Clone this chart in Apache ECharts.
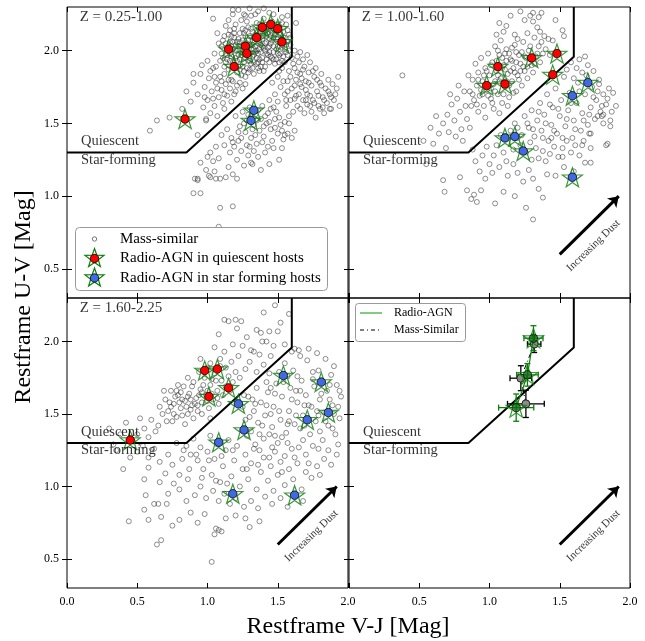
<!DOCTYPE html>
<html><head><meta charset="utf-8">
<script src="https://cdn.jsdelivr.net/npm/echarts@6/dist/echarts.min.js"></script>
<style>html,body{margin:0;padding:0;background:#fff}#c{width:645px;height:641px}</style>
</head><body><div id="c"></div>
<script>
// ---------- data ----------
const xTicks = [0, 0.5, 1, 1.5, 2];
const yTicks = [0.5, 1, 1.5, 2];
const zLabels = ['Z = 0.25-1.00', 'Z = 1.00-1.60', 'Z = 1.60-2.25'];
const uvjBoundary = [[0, 1.3], [0.85, 1.3], [1.6, 1.958], [1.6, 2.3]];
const dustArrow = [[1.5, 0.6], [1.92, 1.0]];

// mass-similar samples, flat (V-J, U-V) pairs
const massZ1 = [
1.08,2.05,1.10,1.98,1.12,2.10,1.13,1.92,1.14,2.02,1.15,1.87,1.16,2.14,1.17,1.96,1.18,2.06,1.19,1.90,1.20,2.00,1.20,2.18,1.21,1.85,1.22,2.08,1.23,1.94,1.24,2.03,1.24,2.21,1.25,1.89,1.26,1.99,1.26,2.12,1.27,1.82,1.28,2.05,1.29,1.93,1.29,2.16,1.30,1.87,1.31,2.01,1.31,2.24,1.32,1.96,1.33,2.09,1.33,1.84,1.34,2.03,1.35,1.91,1.35,2.19,1.36,1.98,1.37,2.07,1.37,1.86,1.38,2.13,1.39,1.95,1.40,2.02,1.40,2.22,1.41,1.89,1.42,2.10,1.43,1.97,1.43,2.16,1.44,1.92,1.45,2.05,1.46,2.20,1.47,1.99,1.48,2.11,1.49,1.94,1.50,2.03,1.51,2.17,1.52,1.98,1.53,2.08,1.54,2.13,1.55,2.01,1.56,2.18,1.57,2.06,1.58,2.11,
1.09,1.93,1.11,2.07,1.12,1.84,1.14,1.97,1.15,2.11,1.17,1.80,1.18,2.01,1.19,2.15,1.21,1.93,1.22,2.03,1.23,1.87,1.25,2.07,1.25,2.15,1.27,1.95,1.28,1.88,1.28,2.20,1.30,2.04,1.30,1.93,1.32,2.13,1.32,1.88,1.34,1.99,1.34,2.25,1.36,2.05,1.36,1.92,1.38,1.99,1.38,1.89,1.39,2.08,1.41,2.14,1.41,2.00,1.42,1.94,1.44,2.08,1.45,1.96,1.46,2.12,1.47,2.03,1.48,1.91,1.50,2.14,1.51,1.97,1.52,2.05,1.53,2.19,1.55,2.09,1.56,1.99,1.57,2.14,1.59,2.04,
1.05,1.98,1.06,1.89,1.07,2.12,1.10,2.03,1.13,2.17,1.16,1.93,1.19,2.09,1.22,1.97,1.24,1.83,1.26,2.04,1.27,2.10,1.29,1.99,1.31,1.91,1.33,2.01,1.35,2.14,1.37,1.94,1.39,2.03,1.40,1.86,1.42,2.06,1.44,1.99,1.46,2.07,1.49,2.08,1.52,2.11,1.54,1.96,1.58,2.00,1.23,2.12,1.20,1.95,1.17,2.03,1.35,1.95,1.30,2.10,
1.11,1.95,1.13,2.05,1.16,1.98,1.18,1.92,1.19,2.12,1.21,2.06,1.22,1.89,1.24,1.97,1.25,2.01,1.26,1.86,1.27,2.14,1.28,1.97,1.29,2.07,1.30,1.98,1.31,2.15,1.32,2.04,1.33,1.92,1.34,2.11,1.35,2.00,1.36,2.09,1.37,2.18,1.38,2.04,1.39,1.92,1.40,2.10,1.41,2.05,1.42,1.98,1.43,2.12,1.44,2.03,1.45,2.14,1.46,1.95,1.47,2.09,1.48,2.17,1.49,2.01,1.50,2.08,1.51,1.92,1.53,2.02,1.54,2.09,1.56,2.04,1.57,1.97,1.59,2.09,
1.12,1.89,1.14,1.94,1.16,2.06,1.17,2.10,1.20,2.04,1.23,2.06,1.26,1.92,1.29,1.85,1.32,2.07,1.36,1.88,1.39,2.13,1.43,2.02,1.47,1.94,1.50,1.98,1.53,1.93,1.21,2.00,1.27,2.00,1.33,1.97,1.37,2.01,1.45,2.10,
1.22,2.28,1.30,2.29,1.36,2.27,1.44,2.26,1.40,2.29,1.27,2.24,1.47,2.25,1.15,2.21,1.53,2.23,1.57,2.24,1.04,2.22,1.18,2.25,1.18,2.28,1.26,2.25,1.63,2.19,
1.55,1.92,1.58,1.86,1.60,1.95,1.62,1.88,1.63,1.80,1.65,1.92,1.66,1.84,1.67,1.75,1.69,1.89,1.70,1.79,1.71,1.70,1.72,1.85,1.74,1.76,1.75,1.66,1.76,1.82,1.78,1.72,1.79,1.62,1.80,1.78,1.82,1.68,1.84,1.74,1.85,1.64,1.87,1.70,1.88,1.60,1.90,1.66,1.92,1.74,1.94,1.62,
1.50,1.82,1.52,1.75,1.53,1.88,1.55,1.70,1.57,1.79,1.59,1.66,1.60,1.74,1.61,1.58,1.63,1.69,1.64,1.62,1.66,1.77,1.68,1.66,1.69,1.57,1.71,1.63,1.73,1.69,1.74,1.58,1.76,1.64,1.77,1.54,1.80,1.60,1.83,1.57,1.48,1.70,1.46,1.78,1.44,1.66,1.47,1.61,1.50,1.65,1.56,1.62,1.58,1.55,
1.64,1.96,1.68,1.94,1.73,1.92,1.77,1.88,1.81,1.84,1.86,1.80,1.62,2.00,1.66,1.99,1.71,1.97,1.89,1.77,1.93,1.82,1.87,1.60,1.82,1.61,
1.51,1.86,1.54,1.79,1.57,1.72,1.59,1.82,1.61,1.91,1.62,1.76,1.64,1.85,1.65,1.70,1.67,1.81,1.68,1.87,1.70,1.73,1.72,1.78,1.73,1.62,1.75,1.86,1.78,1.80,1.79,1.69,1.81,1.76,1.83,1.66,1.86,1.72,1.88,1.68,1.91,1.70,1.62,1.67,1.56,1.66,1.66,1.60,1.70,1.66,
0.90,1.78,0.95,1.84,0.93,1.70,0.98,1.75,1.00,1.66,1.01,1.81,1.03,1.72,1.05,1.62,1.06,1.78,1.08,1.68,1.09,1.82,1.10,1.73,1.11,1.64,1.13,1.77,1.14,1.69,1.16,1.74,1.18,1.79,1.19,1.70,1.21,1.76,1.23,1.78,1.25,1.74,1.27,1.77,0.97,1.61,1.02,1.57,0.99,1.52,0.88,1.65,0.85,1.72,1.04,1.88,1.00,1.93,0.96,1.90,1.07,1.55,1.12,1.60,0.93,1.42,
1.02,1.86,1.05,1.82,1.07,1.74,1.10,1.79,1.12,1.70,1.15,1.80,1.17,1.65,1.20,1.72,1.04,1.67,0.98,1.68,
1.20,1.55,1.23,1.48,1.25,1.58,1.27,1.44,1.28,1.52,1.30,1.61,1.31,1.40,1.33,1.49,1.34,1.56,1.35,1.36,1.37,1.45,1.38,1.53,1.39,1.62,1.40,1.41,1.42,1.50,1.43,1.57,1.45,1.46,1.46,1.38,1.48,1.53,1.50,1.43,1.52,1.49,1.54,1.39,
1.26,1.50,1.29,1.56,1.32,1.46,1.35,1.52,1.36,1.59,1.40,1.48,1.41,1.55,1.44,1.51,1.45,1.60,1.48,1.47,1.49,1.58,1.51,1.54,1.53,1.45,1.55,1.51,1.22,1.44,1.18,1.37,1.24,1.40,1.30,1.34,1.34,1.42,1.39,1.37,1.43,1.34,
1.10,1.42,1.12,1.35,1.14,1.46,1.16,1.30,1.17,1.40,1.19,1.34,1.21,1.25,1.22,1.38,1.24,1.31,1.26,1.21,1.28,1.35,1.29,1.28,1.32,1.22,1.33,1.31,1.36,1.27,1.38,1.18,1.41,1.30,1.44,1.22,1.47,1.33,1.51,1.25,
1.02,1.30,1.04,1.24,1.06,1.34,1.05,1.17,1.08,1.26,1.09,1.12,1.13,1.13,1.15,1.20,1.18,1.15,1.21,1.12,1.00,1.27,0.99,1.18,1.01,1.14,0.95,1.23,0.91,1.12,0.93,1.11,1.02,1.13,1.06,1.12,0.93,1.12,0.90,1.02,1.09,0.92,1.18,0.93,1.08,0.79,1.31,1.23,1.55,1.42,1.53,1.33,1.60,1.40,1.62,1.45,1.58,1.50,1.57,1.43,0.95,1.02,
0.73,1.54,0.64,1.52,0.59,1.45,0.99,1.53,0.90,1.84,0.82,1.60
];
const massZ2 = [
0.86,1.72,0.88,1.80,0.89,1.66,0.91,1.76,0.92,1.85,0.93,1.69,0.95,1.79,0.96,1.62,0.97,1.88,0.98,1.73,1.00,1.83,1.01,1.67,1.02,1.92,1.03,1.77,1.05,1.86,1.06,1.70,1.07,1.97,1.08,1.81,1.09,1.64,1.10,1.90,1.11,1.75,1.12,2.01,1.13,1.84,1.14,1.68,1.15,1.94,1.16,1.79,1.17,1.88,1.18,2.04,1.19,1.72,1.20,1.83,1.21,1.97,1.22,1.91,1.23,1.76,1.24,2.06,1.25,1.86,1.26,1.95,1.27,1.81,1.28,2.00,1.30,1.90,1.31,1.85,1.33,1.96,1.35,2.03,1.36,1.92,1.38,1.98,
0.90,1.91,0.94,1.95,0.99,1.98,1.04,2.03,1.08,2.07,0.87,1.62,0.92,1.58,0.97,1.54,1.03,1.60,1.07,1.57,1.13,1.62,1.01,1.74,1.06,1.83,1.11,1.87,1.16,1.93,1.19,1.99,1.04,1.79,0.94,1.73,0.99,1.69,1.12,1.79,1.18,1.85,1.24,1.89,1.29,1.94,1.23,1.99,1.14,1.98,1.09,1.95,1.40,2.01,1.43,1.97,
0.92,1.80,0.95,1.70,0.98,1.86,1.00,1.76,1.02,1.64,1.04,1.72,1.05,1.93,1.07,1.79,1.09,1.88,1.10,1.70,1.12,1.93,1.14,1.76,1.15,1.86,1.17,1.71,1.19,1.92,1.21,1.80,1.22,1.86,1.25,1.96,1.27,1.89,1.29,2.03,1.32,1.91,1.34,1.98,1.37,2.06,0.88,1.70,0.91,1.63,0.96,1.83,1.01,1.90,1.06,2.00,1.11,1.98,1.16,2.02,
0.67,1.50,0.70,1.56,0.73,1.63,0.75,1.52,0.77,1.67,0.79,1.58,0.80,1.46,0.82,1.72,0.83,1.62,0.84,1.53,0.71,1.44,0.64,1.43,0.76,1.41,0.81,1.38,0.86,1.47,0.62,1.55,0.58,1.47,0.38,1.83,0.72,1.70,0.78,1.76,0.85,1.83,0.60,1.36,0.69,1.33,0.53,1.38,0.55,1.22,
1.07,2.19,1.10,2.13,1.12,2.17,1.22,2.27,1.25,2.21,1.29,2.24,1.31,2.20,1.35,2.23,1.34,2.16,1.39,2.10,1.42,2.08,1.45,2.07,1.52,2.14,1.18,2.11,1.27,2.12,1.15,2.24,1.36,2.13,1.47,2.21,1.20,2.08,1.32,2.09,1.05,2.11,1.53,2.10,1.37,2.26,1.31,2.26,
1.25,1.55,1.28,1.47,1.30,1.59,1.32,1.41,1.34,1.52,1.36,1.64,1.37,1.45,1.39,1.56,1.41,1.70,1.42,1.38,1.44,1.49,1.45,1.61,1.47,1.74,1.48,1.43,1.50,1.55,1.51,1.66,1.53,1.82,1.54,1.48,1.56,1.59,1.57,1.71,1.59,1.40,1.60,1.52,1.62,1.64,1.63,1.78,1.65,1.45,1.66,1.57,1.68,1.70,1.69,1.83,1.70,1.49,1.72,1.61,1.73,1.75,1.75,1.53,1.76,1.66,1.78,1.80,1.79,1.58,1.81,1.70,1.83,1.63,1.85,1.74,1.87,1.58,1.90,1.62,1.80,1.62,1.86,1.52,
1.27,1.50,1.31,1.46,1.35,1.58,1.38,1.40,1.40,1.50,1.43,1.63,1.46,1.45,1.49,1.60,1.52,1.40,1.55,1.53,1.58,1.64,1.61,1.46,1.64,1.72,1.67,1.52,1.71,1.56,1.74,1.68,1.77,1.72,1.80,1.55,1.84,1.67,1.88,1.71,1.20,1.47,1.23,1.42,1.17,1.32,1.30,1.25,1.44,1.40,1.52,1.27,
1.58,1.92,1.62,1.88,1.66,1.85,1.70,1.90,1.74,1.86,1.55,1.87,1.60,1.81,1.64,1.94,1.68,1.96,
1.15,1.45,1.18,1.50,1.20,1.40,1.22,1.35,1.26,1.30,1.29,1.37,1.33,1.33,1.35,1.26,1.38,1.31,1.40,1.24,1.43,1.29,1.46,1.34,1.49,1.27,1.52,1.33,1.55,1.38,1.58,1.30,1.61,1.35,1.64,1.28,1.67,1.38,1.71,1.43,1.72,1.33,1.77,1.55,1.81,1.50,1.83,1.35,1.66,1.35,
1.05,1.35,1.08,1.42,1.10,1.30,1.12,1.24,1.03,1.28,0.98,1.34,1.00,1.22,0.95,1.28,0.90,1.24,0.88,1.32,0.93,1.17,0.97,1.12,1.02,1.16,1.07,1.20,1.13,1.14,1.17,1.22,1.20,1.16,1.24,1.10,1.28,1.18,1.31,1.12,1.35,1.05,1.41,1.15,1.47,1.14,1.53,1.20,1.60,1.17,
0.68,1.03,0.67,1.11,0.84,1.04,0.87,0.98,0.94,1.04,1.04,0.95,1.26,0.92,1.31,0.84,1.38,0.99,1.68,1.23,1.72,1.23,1.84,1.36,1.86,1.48,0.89,1.01,0.91,0.96,1.10,1.03,1.18,1.00,0.79,1.13,1.72,1.43,1.78,1.77,1.81,1.56
];
const massZ3 = [
1.12,2.15,1.15,2.14,1.20,2.15,1.24,2.14,1.40,2.20,1.58,2.19,1.35,2.08,1.38,2.06,1.44,2.07,1.52,2.13,1.50,2.07,1.39,2.00,1.42,2.00,1.31,1.94,1.33,1.93,1.62,1.95,1.65,1.94,1.28,2.03,1.47,1.97,1.55,1.98,1.21,2.09,1.08,2.05,1.25,1.97,1.37,1.91,1.45,1.90,1.18,1.98,1.30,1.86,1.40,1.84,1.22,1.90,1.12,1.93,1.05,1.96,1.17,1.86,1.27,1.81,1.13,1.82,1.09,1.88,1.02,1.85,0.95,1.88,1.35,1.79,1.48,2.25,
0.70,1.60,0.72,1.52,0.74,1.66,0.76,1.57,0.78,1.48,0.79,1.63,0.81,1.54,0.83,1.69,0.84,1.59,0.86,1.50,0.87,1.64,0.89,1.56,0.90,1.72,0.92,1.61,0.93,1.52,0.95,1.67,0.96,1.58,0.98,1.75,0.99,1.63,1.01,1.54,1.02,1.70,1.04,1.60,1.05,1.78,1.07,1.66,1.08,1.57,1.10,1.73,1.11,1.63,1.13,1.69,1.15,1.76,1.16,1.66,1.18,1.72,1.20,1.79,1.23,1.75,0.73,1.58,0.77,1.62,0.80,1.58,0.85,1.55,0.88,1.60,0.91,1.57,0.94,1.63,0.97,1.70,1.00,1.66,1.03,1.64,1.06,1.73,0.82,1.49,0.75,1.45,0.68,1.50,0.65,1.42,0.60,1.46,0.63,1.38,0.55,1.40,0.58,1.34,0.50,1.36,0.66,1.55,0.69,1.66,0.71,1.45,0.79,1.70,0.86,1.75,0.94,1.79,1.00,1.82,1.09,1.83,0.84,1.43,0.90,1.47,0.96,1.50,1.02,1.47,
0.74,1.55,0.78,1.66,0.82,1.60,0.86,1.62,0.89,1.69,0.93,1.56,0.96,1.65,1.00,1.59,1.03,1.74,1.07,1.61,0.76,1.50,0.81,1.65,0.88,1.53,
1.25,1.55,1.27,1.46,1.29,1.62,1.31,1.38,1.33,1.52,1.35,1.68,1.36,1.44,1.38,1.58,1.40,1.33,1.41,1.49,1.43,1.65,1.44,1.78,1.46,1.41,1.47,1.55,1.49,1.71,1.50,1.30,1.52,1.46,1.53,1.62,1.55,1.85,1.56,1.37,1.58,1.52,1.59,1.68,1.61,1.80,1.62,1.43,1.64,1.58,1.65,1.27,1.67,1.73,1.68,1.49,1.70,1.63,1.71,1.87,1.73,1.36,1.74,1.55,1.76,1.69,1.77,1.45,1.79,1.80,1.80,1.60,1.82,1.32,1.83,1.51,1.85,1.66,1.86,1.42,1.88,1.77,1.89,1.56,1.91,1.36,1.92,1.70,1.94,1.47,1.95,1.62,1.93,1.29,1.90,1.83,1.84,1.88,1.78,1.92,1.72,1.95,1.66,1.90,1.60,1.93,1.63,1.66,1.57,1.76,1.51,1.79,1.45,1.50,1.39,1.42,1.34,1.29,1.37,1.25,1.44,1.36,1.48,1.24,1.55,1.21,1.60,1.26,1.66,1.40,1.70,1.22,1.75,1.28,1.80,1.38,1.86,1.25,1.53,1.34,1.58,1.45,1.69,1.56,1.79,1.49,1.87,1.60,1.64,1.76,1.75,1.79,1.82,1.72,1.93,1.55,1.32,1.60,1.42,1.72,1.48,1.64,1.28,1.35,
1.26,1.63,1.30,1.48,1.34,1.57,1.37,1.36,1.42,1.56,1.45,1.68,1.48,1.35,1.51,1.52,1.54,1.72,1.57,1.43,1.60,1.60,1.63,1.49,1.66,1.66,1.69,1.42,1.72,1.56,1.75,1.74,1.78,1.52,1.81,1.64,1.84,1.45,1.87,1.70,1.90,1.50,1.94,1.66,1.46,1.27,1.57,1.30,1.68,1.32,1.79,1.26,1.89,1.40,
0.85,1.28,0.88,1.22,0.90,1.33,0.93,1.18,0.95,1.27,0.97,1.12,1.00,1.24,1.02,1.35,1.03,1.08,1.05,1.19,1.07,1.29,1.09,1.03,1.11,1.14,1.13,1.25,1.15,1.32,1.17,1.07,1.19,1.18,1.21,1.28,1.23,1.00,1.25,1.12,1.27,1.22,1.29,1.05,1.31,1.16,1.33,1.26,1.35,0.98,1.38,1.10,1.40,1.20,1.43,1.04,1.45,1.14,1.47,0.97,1.50,1.08,1.52,1.17,1.55,1.01,1.58,1.12,1.61,1.05,1.64,1.16,1.67,0.98,1.70,1.10,1.74,1.06,1.78,1.14,1.83,1.19,1.88,1.15,1.92,1.22,
0.83,1.25,0.92,1.22,1.01,1.18,1.10,1.21,1.18,1.25,1.28,1.12,1.36,1.15,1.44,1.20,1.53,1.10,1.62,1.20,1.72,1.16,1.80,1.08,0.87,1.12,0.96,1.06,1.06,1.04,1.14,1.02,
0.72,1.22,0.75,1.15,0.78,1.30,0.80,1.08,0.82,1.19,0.76,1.02,0.70,1.09,0.66,1.17,0.62,1.26,0.58,1.20,0.54,1.28,0.50,1.24,0.80,0.98,0.86,1.05,0.91,0.94,0.95,1.00,0.99,0.92,1.04,0.97,1.08,0.90,1.12,0.95,1.16,0.88,1.20,0.92,1.26,0.86,1.31,0.90,1.36,0.85,1.41,0.93,1.46,0.88,1.52,0.92,1.57,0.86,1.62,0.95,1.68,0.90,
0.44,0.76,0.64,0.60,0.67,0.63,1.03,0.48,1.05,0.67,1.06,0.71,1.10,0.69,1.08,0.70,1.20,0.80,1.27,0.78,1.37,0.76,0.55,0.84,0.58,0.77,0.67,0.79,0.56,0.94,0.55,1.05,0.58,1.13,0.66,1.03,0.62,0.88,0.65,0.88,0.71,0.88,0.75,0.73,0.80,0.77,0.88,0.82,0.93,0.75,0.98,0.81,1.13,0.78,1.30,0.72,0.72,0.95,0.85,0.90,0.40,1.12,0.45,1.20,0.35,1.25,
0.30,1.40,0.38,1.36,0.42,1.44,0.47,1.31,0.52,1.47,0.33,1.29
];

// radio-AGN hosts
const agnQuiescentZ1 = [[0.84,1.53],[1.15,2.01],[1.19,1.89],[1.27,2.03],[1.28,1.98],[1.35,2.09],[1.39,2.16],[1.45,2.18],[1.50,2.15],[1.53,2.06]];
const agnStarFormZ1 = [[1.33,1.59],[1.31,1.52]];
const agnQuiescentZ2 = [[1.06,1.89],[0.98,1.76],[1.11,1.77],[1.30,1.95],[1.48,1.98],[1.45,1.835]];
const agnStarFormZ2 = [[1.70,1.78],[1.59,1.69],[1.11,1.40],[1.18,1.41],[1.24,1.31],[1.59,1.13]];
const agnQuiescentZ3 = [[0.45,1.32],[0.98,1.80],[1.07,1.81],[1.01,1.62],[1.15,1.68]];
const agnStarFormZ3 = [[1.22,1.57],[1.26,1.39],[1.08,1.305],[1.18,0.95],[1.54,1.765],[1.81,1.72],[1.86,1.51],[1.71,1.46],[1.62,0.94]];

// median summary (panel 4)
const agnMedVJ = [1.19, 1.27, 1.313];
const agnMedUV = [1.544, 1.770, 2.023];
const agnMedVJErr = [0.125, 0.077, 0.068];
const agnMedUVErr = [0.094, 0.078, 0.086];
const massMedVJ = [1.259, 1.223, 1.318];
const massMedUV = [1.570, 1.747, 1.982];
const massMedVJErr = [0.131, 0.077, 0.048];
const massMedUVErr = [0.094, 0.086, 0.058];

// ---------- helpers ----------
const F = "'Liberation Serif','DejaVu Serif',serif";
const pairs = a => { const o = []; for (let i = 0; i < a.length; i += 2) o.push([a[i], a[i + 1]]); return o; };
function starPoints(cx, cy, R, ratio) {
  const r = R * ratio, p = [];
  for (let i = 0; i < 10; i++) {
    const ang = -Math.PI / 2 + i * Math.PI / 5, rr = i % 2 ? r : R;
    p.push([cx + rr * Math.cos(ang), cy + rr * Math.sin(ang)]);
  }
  return p;
}
const STAR = 'path://' + starPoints(10, 10, 10, 0.4).map((p, i) => (i ? 'L' : 'M') + p[0].toFixed(2) + ',' + p[1].toFixed(2)).join(' ') + ' Z';
const GREEN = '#0a800a', RED = '#ff0000', BLUE = '#4169e1';

const grids = [
  {left: 67, top: 7, width: 281, height: 291},
  {left: 349, top: 7, width: 281, height: 291},
  {left: 67, top: 298, width: 281, height: 290},
  {left: 349, top: 298, width: 281, height: 290}
].map(g => Object.assign(g, {show: true, borderColor: '#000', borderWidth: 1, backgroundColor: 'transparent'}));

const xAxes = [], yAxes = [];
const tickStyle = {show: true, inside: true, length: 5, lineStyle: {color: '#000', width: 1}};
for (let g = 0; g < 4; g++) {
  const showX = g >= 2;
  xAxes.push({gridIndex: g, type: 'value', min: 0, max: 2, interval: 0.5, position: 'bottom',
    axisLine: {show: false}, splitLine: {show: false}, axisTick: tickStyle,
    axisLabel: {show: showX, color: '#000', fontFamily: F, fontSize: 12, margin: 8,
      formatter: v => v.toFixed(1), customValues: g === 3 ? xTicks.slice(1) : xTicks}});
  xAxes.push({gridIndex: g, type: 'value', min: 0, max: 2, interval: 0.5, position: 'top',
    axisLine: {show: false}, splitLine: {show: false}, axisTick: tickStyle, axisLabel: {show: false}});
  const showY = g % 2 === 0;
  yAxes.push({gridIndex: g, type: 'value', min: 0.3, max: 2.3, position: 'left',
    axisLine: {show: false}, splitLine: {show: false},
    axisTick: Object.assign({customValues: yTicks}, tickStyle),
    axisLabel: {show: showY, color: '#000', fontFamily: F, fontSize: 12, margin: 8,
      formatter: v => v.toFixed(1), customValues: yTicks}});
  yAxes.push({gridIndex: g, type: 'value', min: 0.3, max: 2.3, position: 'right',
    axisLine: {show: false}, splitLine: {show: false},
    axisTick: Object.assign({customValues: yTicks}, tickStyle), axisLabel: {show: false}});
}

const series = [];
const ax = g => ({xAxisIndex: 2 * g, yAxisIndex: 2 * g});
function textSeries(g, pt, text, size, extra) {
  series.push(Object.assign({type: 'scatter', silent: true, symbolSize: 1, itemStyle: {color: 'rgba(0,0,0,0)'},
    data: [pt], z: 20, animation: false,
    label: Object.assign({show: true, position: 'inside', formatter: () => text, fontFamily: F, fontSize: size,
      color: '#000', align: 'left', verticalAlign: 'middle'}, extra || {})}, ax(g)));
}
function starSeries(g, data, dotColor) {
  series.push(Object.assign({type: 'scatter', silent: true, data: data, symbol: STAR, symbolSize: 20, symbolKeepAspect: true,
    itemStyle: {color: 'rgba(0,0,0,0)', borderColor: GREEN, borderWidth: 1.2}, z: 6}, ax(g)));
  series.push(Object.assign({type: 'scatter', silent: true, data: data, symbol: 'circle', symbolSize: 8.5,
    itemStyle: {color: dotColor, borderColor: '#000', borderWidth: 0.8, opacity: 1}, z: 7}, ax(g)));
}

const massSets = [massZ1, massZ2, massZ3];
const agnQ = [agnQuiescentZ1, agnQuiescentZ2, agnQuiescentZ3];
const agnS = [agnStarFormZ1, agnStarFormZ2, agnStarFormZ3];

for (let g = 0; g < 4; g++) {
  if (g < 3) {
    series.push(Object.assign({type: 'scatter', silent: true, data: pairs(massSets[g]), symbol: 'circle', symbolSize: 5,
      itemStyle: {color: 'rgba(255,255,255,0)', borderColor: 'rgba(40,40,40,0.72)', borderWidth: 0.9}, z: 2}, ax(g)));
  }
  series.push(Object.assign({type: 'line', silent: true, data: uvjBoundary, symbol: 'none',
    lineStyle: {color: '#000', width: 2}, z: 4}, ax(g)));
  if (g < 3) {
    starSeries(g, agnQ[g], RED);
    starSeries(g, agnS[g], BLUE);
    textSeries(g, [0.09, 2.23], zLabels[g], 15);
  }
  if (g > 0) {
    series.push(Object.assign({type: 'lines', coordinateSystem: 'cartesian2d', silent: true,
      data: [{coords: dustArrow}], symbol: ['none', 'arrow'], symbolSize: 10,
      lineStyle: {color: '#000', width: 3, opacity: 1}, z: 8}, ax(g)));
    textSeries(g, [1.74, 0.66], 'Increasing Dust', 11, {align: 'center', rotate: 44});
  }
  textSeries(g, [0.1, 1.375], 'Quiescent', 14.5);
  textSeries(g, [0.1, 1.25], 'Star-forming', 14.5);
}

// panel 4: medians with error bars
function errSeries(vj, uv, vje, uve, color) {
  return Object.assign({type: 'custom', silent: true, z: 5,
    data: vj.map((v, i) => [v, uv[i], vje[i], uve[i]]), encode: {x: 0, y: 1},
    renderItem: (p, api) => {
      const x = api.value(0), y = api.value(1), ex = api.value(2), ey = api.value(3);
      const a = api.coord([x - ex, y]), b = api.coord([x + ex, y]), c = api.coord([x, y - ey]), d = api.coord([x, y + ey]);
      const st = {stroke: color, lineWidth: 1.3};
      const L = (p1, p2) => ({type: 'line', shape: {x1: p1[0], y1: p1[1], x2: p2[0], y2: p2[1]}, style: st});
      const k = 3;
      return {type: 'group', children: [L(a, b), L(c, d),
        L([a[0], a[1] - k], [a[0], a[1] + k]), L([b[0], b[1] - k], [b[0], b[1] + k]),
        L([c[0] - k, c[1]], [c[0] + k, c[1]]), L([d[0] - k, d[1]], [d[0] + k, d[1]])]};
    }}, ax(3));
}
const massMed = massMedVJ.map((v, i) => [v, massMedUV[i]]);
const agnMed = agnMedVJ.map((v, i) => [v, agnMedUV[i]]);
series.push(errSeries(massMedVJ, massMedUV, massMedVJErr, massMedUVErr, '#000'));
series.push(Object.assign({type: 'line', silent: true, data: massMed, symbol: 'circle', symbolSize: 8,
  itemStyle: {color: '#8c8c8c', borderColor: '#000', borderWidth: 0.8},
  lineStyle: {color: '#000', width: 1, type: [5, 3, 1, 3]}, z: 6}, ax(3)));
series.push(errSeries(agnMedVJ, agnMedUV, agnMedVJErr, agnMedUVErr, GREEN));
series.push(Object.assign({type: 'line', silent: true, data: agnMed, symbol: 'none',
  lineStyle: {color: GREEN, width: 1.2}, z: 7}, ax(3)));
series.push(Object.assign({type: 'scatter', silent: true, data: agnMed, symbol: STAR, symbolSize: 20, symbolKeepAspect: true,
  itemStyle: {color: 'rgba(0,0,0,0)', borderColor: GREEN, borderWidth: 1.2}, z: 8}, ax(3)));
series.push(Object.assign({type: 'scatter', silent: true, data: agnMed, symbol: 'circle', symbolSize: 8.5,
  itemStyle: {color: '#0d6b0d', borderColor: '#000', borderWidth: 0.8}, z: 9}, ax(3)));

// legends and axis titles (layout elements)
const txt = (x, y, t, size) => ({type: 'text', x: x, y: y, z: 101,
  style: {text: t, fill: '#000', font: size + 'px ' + F, textVerticalAlign: 'middle'}});
const star = (cx, cy, dot) => [
  {type: 'polygon', z: 101, shape: {points: starPoints(cx, cy, 10, 0.4)}, style: {fill: 'rgba(0,0,0,0)', stroke: GREEN, lineWidth: 1.2}},
  {type: 'circle', z: 102, shape: {cx: cx, cy: cy, r: 4.2}, style: {fill: dot, stroke: '#000', lineWidth: 0.8}}
];
const graphic = [
  {type: 'rect', z: 100, shape: {x: 75.5, y: 227.5, width: 252, height: 63, r: 4}, style: {fill: '#fff', stroke: '#999', lineWidth: 1}},
  {type: 'circle', z: 101, shape: {cx: 94.5, cy: 239, r: 2.2}, style: {fill: 'rgba(0,0,0,0)', stroke: '#555', lineWidth: 0.8}},
  ...star(94.5, 258.5, RED),
  ...star(94.5, 278, BLUE),
  txt(120, 239, 'Mass-similar', 15),
  txt(120, 258.5, 'Radio-AGN in quiescent hosts', 15),
  txt(120, 278, 'Radio-AGN in star forming hosts', 15),
  {type: 'rect', z: 100, shape: {x: 355.5, y: 303.5, width: 110, height: 38, r: 3}, style: {fill: '#fff', stroke: '#999', lineWidth: 1}},
  {type: 'line', z: 101, shape: {x1: 360, y1: 313, x2: 382, y2: 313}, style: {stroke: '#3cb043', lineWidth: 1.3}},
  {type: 'line', z: 101, shape: {x1: 360, y1: 330, x2: 382, y2: 330}, style: {stroke: '#000', lineWidth: 1, lineDash: [4, 3, 1, 3]}},
  txt(394, 313, 'Radio-AGN', 12),
  txt(394, 330, 'Mass-Similar', 12),
  {type: 'text', z: 101, x: 348, y: 627,
    style: {text: 'Restframe V-J [Mag]', fill: '#000', font: '24px ' + F, textAlign: 'center', textVerticalAlign: 'middle'}},
  {type: 'text', z: 101, x: 24, y: 297, rotation: Math.PI / 2,
    style: {text: 'Restframe U-V [Mag]', fill: '#000', font: '24px ' + F, textAlign: 'center', textVerticalAlign: 'middle'}}
];

const chart = echarts.init(document.getElementById('c'), null, {renderer: 'canvas'});
chart.setOption({
  animation: false, backgroundColor: '#fff',
  grid: grids, xAxis: xAxes, yAxis: yAxes, series: series, graphic: graphic
});
</script></body></html>
